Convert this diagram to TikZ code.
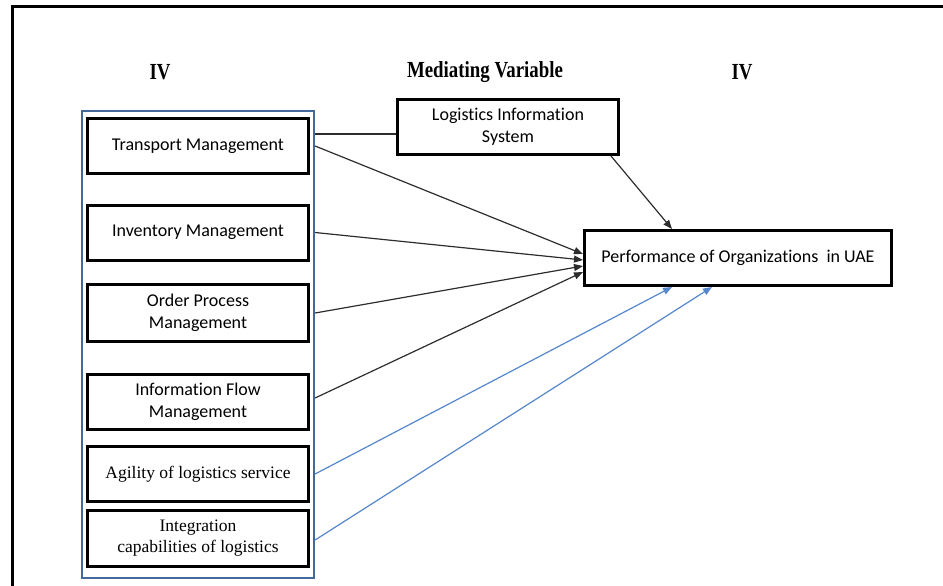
\documentclass[tikz,border=0pt]{standalone}
\usepackage{fontspec}
\usepackage{graphicx}
\usetikzlibrary{arrows.meta,calc}
\newfontfamily\bodysans{Carlito}[Ligatures={NoCommon}]
\newfontfamily\bodyserif{Liberation Serif}
\newfontfamily\headserif{Liberation Serif}[BoldFont={Liberation Serif Bold}]
\definecolor{framblue}{RGB}{66,104,156}
\definecolor{arrblue}{RGB}{86,134,204}
\definecolor{lnk}{RGB}{45,45,45}
\tikzset{
  varbox/.style={draw, line width=3pt, minimum width=221pt, minimum height=55pt,
    align=center, inner sep=0pt, font=\bodysans\fontsize{18}{22}\selectfont},
  serifbox/.style={varbox, font=\bodyserif\fontsize{17.5}{21}\selectfont},
  headtxt/.style={inner sep=0pt, font=\headserif\bfseries\fontsize{23}{26}\selectfont},
  blkarrow/.style={draw=lnk, line width=1.2pt, -{Triangle[length=9pt,width=7pt]}},
  bluearrow/.style={draw=arrblue, line width=1.2pt, -{Triangle[length=9pt,width=7pt]}},
  plainlink/.style={draw=lnk, line width=1.2pt}
}
\begin{document}
\begin{tikzpicture}[x=1pt,y=-1pt]
\useasboundingbox (0,0) rectangle (943,586);
% outer frame
\coordinate (fa) at (12,586);
\coordinate (fb) at (12,7);
\coordinate (fc) at (943,7);
\draw[line width=3pt] (fa) -- (fb) -- (fc);

% headings
\node[headtxt] (h1) at (160,72) {\scalebox{0.82}[1]{IV}};
\node[headtxt] (h2) at (485,72) {\scalebox{0.82}[1]{Mediating Variable}};
\node[headtxt] (h3) at (742,72) {\scalebox{0.82}[1]{IV}};

% container
\node[draw=framblue, line width=2.2pt, minimum width=232pt, minimum height=467pt, inner sep=0pt] (iv) at (198,344.5) {};

% variable boxes
\node[varbox] (tm) at (198,146) {Transport Management};
\node[varbox] (inv) at (198,232.5) {Inventory Management};
\node[varbox, minimum height=57pt] (op) at (198,313) {Order Process\\Management};
\node[varbox] (ifm) at (198,402) {Information Flow\\Management};
\node[serifbox] (ag) at (198,474) {Agility of logistics service};
\node[serifbox, minimum height=56pt] (ic) at (198,538.5) {Integration\\capabilities of logistics};

% mediating and dependent
\node[varbox] (lis) at (508,127) {Logistics Information\\System};
\node[varbox, minimum width=307pt] (perf) at (738,258) {Performance of Organizations~~in UAE};

% connectors
\coordinate (lisstart) at ($(iv.east |- tm.center)+(0,-12)$);
\draw[plainlink] (lisstart) -- (lis.west |- lisstart);
\draw[blkarrow] (iv.east |- tm.center) -- ($(perf.west)+(0,-4)$);
\draw[blkarrow] (iv.east |- inv.center) -- ($(perf.west)+(0,2)$);
\draw[blkarrow] (iv.east |- op.center) -- ($(perf.west)+(0,8)$);
\draw[blkarrow] ($(iv.east |- ifm.center)+(0,-4)$) -- ($(perf.west)+(0,14)$);
\draw[blkarrow] ($(lis.south east)+(-9,0)$) -- ($(perf.north)+(-66,0)$);
\draw[bluearrow] (iv.east |- ag.center) -- ($(perf.south)+(-66,0)$);
\draw[bluearrow] ($(iv.east |- ic.center)+(0,1.5)$) -- ($(perf.south)+(-26,0)$);
\end{tikzpicture}
\end{document}
